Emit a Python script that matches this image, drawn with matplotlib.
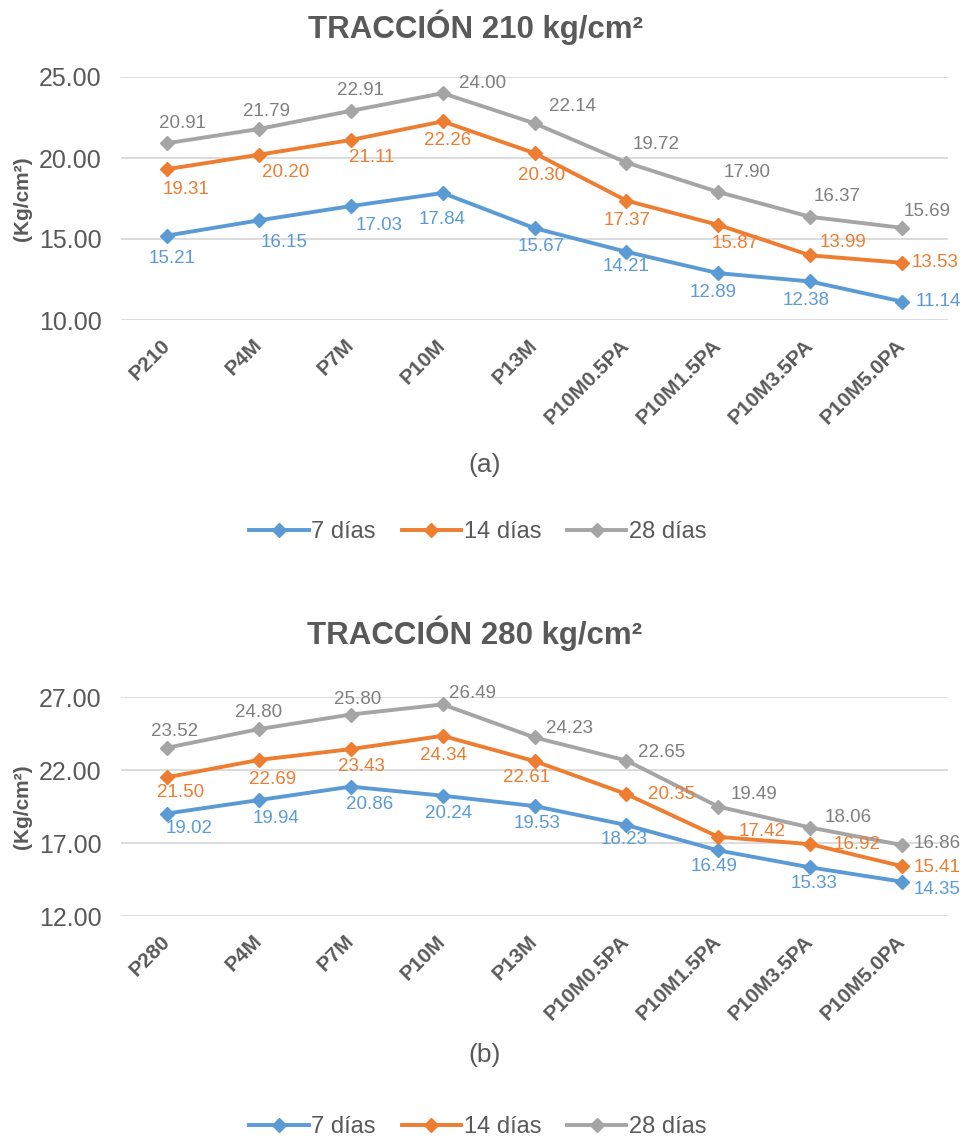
import matplotlib
matplotlib.use("Agg")
import matplotlib.pyplot as plt
from matplotlib.lines import Line2D

plt.rcParams['font.family'] = ['Liberation Sans', 'DejaVu Sans']

# ---- data -------------------------------------------------------------
categories_210 = ["P210", "P4M", "P7M", "P10M", "P13M",
                  "P10M0.5PA", "P10M1.5PA", "P10M3.5PA", "P10M5.0PA"]
categories_280 = ["P280", "P4M", "P7M", "P10M", "P13M",
                  "P10M0.5PA", "P10M1.5PA", "P10M3.5PA", "P10M5.0PA"]

series_names = ["7 días", "14 días", "28 días"]

t210_7d = [15.21, 16.15, 17.03, 17.84, 15.67, 14.21, 12.89, 12.38, 11.14]
t210_14d = [19.31, 20.20, 21.11, 22.26, 20.30, 17.37, 15.87, 13.99, 13.53]
t210_28d = [20.91, 21.79, 22.91, 24.00, 22.14, 19.72, 17.90, 16.37, 15.69]

t280_7d = [19.02, 19.94, 20.86, 20.24, 19.53, 18.23, 16.49, 15.33, 14.35]
t280_14d = [21.50, 22.69, 23.43, 24.34, 22.61, 20.35, 17.42, 16.92, 15.41]
t280_28d = [23.52, 24.80, 25.80, 26.49, 24.23, 22.65, 19.49, 18.06, 16.86]

# ---- styling ----------------------------------------------------------
COLORS = ["#5B9BD5", "#ED7D31", "#A5A5A5"]
LABEL_COLORS = ["#5B9BD5", "#ED7D31", "#7F7F7F"]
TEXT = "#595959"
GRID = "#D9D9D9"

# data-label placement (pixels right, pixels down) for each point
offs_210 = [
    [(5, 23), (25, 22), (28, 19), (0, 27), (7, 18), (0, 15), (-5, 19), (-4, 19), (36, 0)],
    [(19, 20), (27, 18), (21, 17), (5, 19), (7, 22), (1, 20), (17, 19), (33, -13), (33, 0)],
    [(16, -20), (8, -18), (10, -20), (40, -10), (38, -17), (30, -18), (29, -20), (27, -20), (25, -16)],
]
offs_280 = [
    [(22, 15), (17, 18), (19, 18), (6, 18), (3, 17), (-2, 14), (-4, 16), (4, 16), (35, 8)],
    [(14, 15), (14, 20), (11, 17), (1, 20), (-8, 16), (45, 0), (44, -5), (47, 0), (35, 1)],
    [(8, -16), (0, -17), (7, -15), (30, -11), (35, -9), (35, -8), (36, -12), (38, -10), (35, -2)],
]

W, H = 968, 1140
fig = plt.figure(figsize=(W / 100, H / 100), dpi=100)


def px_rect(left, top, right, bottom):
    return [left / W, 1 - bottom / H, (right - left) / W, (bottom - top) / H]


def draw_panel(rect, cats, data, offsets, ylim, yticks, title, title_y,
               caption, caption_y, legend_y):
    ax = fig.add_axes(rect)
    x = list(range(len(cats)))
    for vals, col, lcol, offs, name in zip(data, COLORS, LABEL_COLORS, offsets, series_names):
        ax.plot(x, vals, color=col, lw=2.8, marker="D", ms=7.2,
                mec=col, mfc=col, label=name, zorder=3)
        for xi, v, (dx, dy) in zip(x, vals, offs):
            ax.annotate(f"{v:.2f}", (xi, v), xytext=(dx, -dy),
                        textcoords="offset pixels", ha="center", va="center",
                        fontsize=13.5, color=lcol, zorder=4)
    ax.set_xlim(-0.5, len(cats) - 0.5)
    ax.set_ylim(*ylim)
    ax.set_yticks(yticks)
    ax.set_yticklabels([f"{t:.2f}" for t in yticks])
    ax.set_xticks(x)
    ax.set_xticklabels(cats, rotation=45, ha="right", va="center",
                       rotation_mode="anchor", fontweight="bold",
                       fontsize=15, color=TEXT)
    ax.tick_params(axis="x", length=0, pad=16)
    ax.tick_params(axis="y", length=0, pad=14, labelsize=18, labelcolor=TEXT)
    ax.grid(axis="y", color=GRID, lw=1.3)
    ax.set_axisbelow(True)
    for s in ax.spines.values():
        s.set_visible(False)
    ax.set_ylabel("(Kg/cm²)", fontsize=15, fontweight="bold", color=TEXT)
    ax.yaxis.set_label_coords(-0.108, 0.5)

    fig.text(475 / W, 1 - title_y / H, title, ha="center", va="center",
             fontsize=22.5, fontweight="bold", color=TEXT)
    fig.text(485 / W, 1 - caption_y / H, caption, ha="center", va="center",
             fontsize=19, color=TEXT)

    handles = [Line2D([], [], color=c, lw=2.8, marker="D", ms=7.2, mec=c, mfc=c)
               for c in COLORS]
    fig.legend(handles, series_names, loc="center",
               bbox_to_anchor=(478 / W, 1 - legend_y / H), ncol=3,
               frameon=False, fontsize=17, handlelength=2.5,
               handletextpad=0.12, columnspacing=1.1, labelcolor=TEXT)
    return ax


draw_panel(px_rect(121, 77, 948, 320), categories_210,
           [t210_7d, t210_14d, t210_28d], offs_210,
           (10, 25), [10, 15, 20, 25],
           "TRACCIÓN 210 kg/cm²", 27, "(a)", 465, 532)

draw_panel(px_rect(121, 697, 948, 916), categories_280,
           [t280_7d, t280_14d, t280_28d], offs_280,
           (12, 27), [12, 17, 22, 27],
           "TRACCIÓN 280 kg/cm²", 633, "(b)", 1055, 1127)

fig.savefig("out.png", dpi=100, facecolor="white")
